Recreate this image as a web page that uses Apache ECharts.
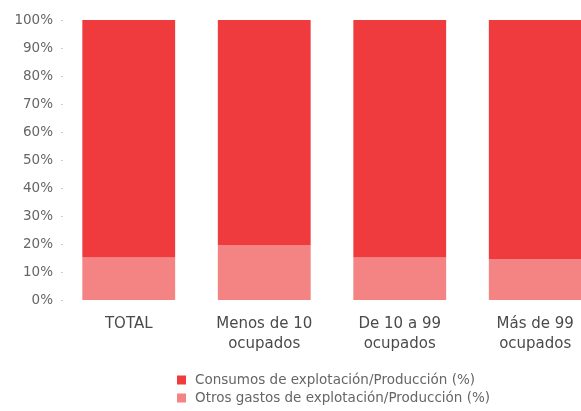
<!DOCTYPE html>
<html><head><meta charset="utf-8">
<script src="https://cdn.jsdelivr.net/npm/echarts@6/dist/echarts.min.js"></script>
<style>html,body{margin:0;padding:0;background:#fff}#c{width:581px;height:411px}</style>
</head><body><div id="c"></div>
<script>
const categories = ['TOTAL', 'Menos de 10\nocupados', 'De 10 a 99\nocupados', 'Más de 99\nocupados'];
const otrosGastos = [15.2, 19.6, 15.2, 14.6];
const consumos = [84.8, 80.4, 84.8, 85.4];
const seriesNames = ['Consumos de explotación/Producción (%)', 'Otros gastos de explotación/Producción (%)'];

const chart = echarts.init(document.getElementById('c'));
chart.setOption({
  animation: false,
  grid: { left: 61, right: -22, top: 20, bottom: 111, containLabel: false, outerBoundsMode: 'none' },
  legend: {
    data: seriesNames,
    orient: 'vertical',
    left: 177, top: 373, height: 38, width: 400,
    padding: 0,
    itemWidth: 9, itemHeight: 9, itemGap: 4,
    icon: 'rect',
    textStyle: { fontFamily: 'DejaVu Sans', fontSize: 13.5, color: '#666', padding: [0, 0, 0, 4] }
  },
  xAxis: {
    type: 'category', data: categories,
    axisLine: { show: false }, axisTick: { show: false },
    axisLabel: { fontFamily: 'DejaVu Sans', fontSize: 15, color: '#4a4a4a', margin: 14, lineHeight: 20 }
  },
  yAxis: {
    type: 'value', min: 0, max: 100, interval: 10,
    axisLine: { show: false },
    axisTick: { show: true, inside: true, length: 2, lineStyle: { color: '#ccc' } },
    splitLine: { show: false },
    axisLabel: { formatter: '{value}%', fontFamily: 'DejaVu Sans', fontSize: 13.5, color: '#666', margin: 8 }
  },
  series: [
    { name: seriesNames[1], type: 'bar', stack: 's', data: otrosGastos, barWidth: '68.5%',
      itemStyle: { color: '#f48383' } },
    { name: seriesNames[0], type: 'bar', stack: 's', data: consumos, barWidth: '68.5%',
      itemStyle: { color: '#ef3b3d' } }
  ]
});
</script></body></html>
